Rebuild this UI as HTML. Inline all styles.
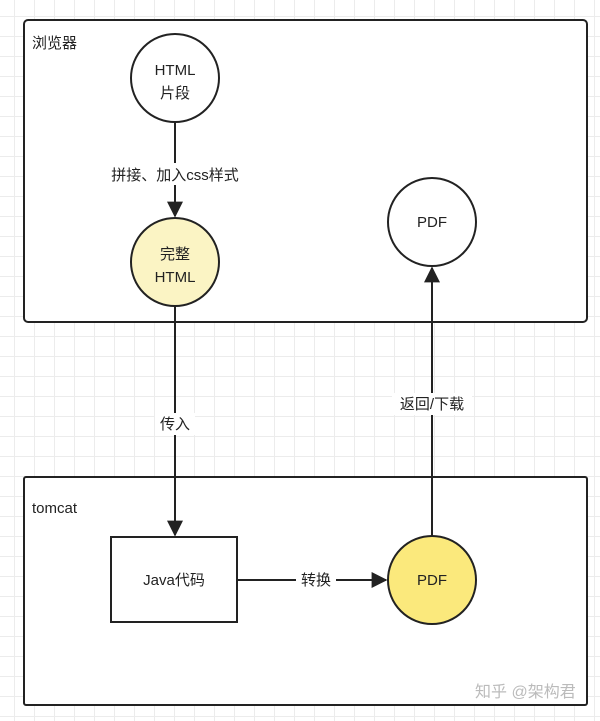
<!DOCTYPE html>
<html><head><meta charset="utf-8"><style>
body{margin:0;width:600px;height:721px;overflow:hidden;background:#fff;
background-image:linear-gradient(#ececec 1px,transparent 1px),linear-gradient(90deg,#ececec 1px,transparent 1px);background-size:20px 20px;background-position:-6px -4px}
svg{position:absolute;left:0;top:0}
text{font-family:"Liberation Sans","Noto Sans CJK SC",sans-serif;font-size:15px;fill:#222}
</style></head><body>
<svg width="600" height="721">
<defs><marker id="a" viewBox="0 0 10 10" refX="9" refY="5" markerWidth="8" markerHeight="8" orient="auto"><path d="M0,0L10,5L0,10z" fill="#222"/></marker></defs>
<rect x="24" y="20" width="563" height="302" rx="4" fill="#fff" stroke="#222" stroke-width="2"/>
<rect x="24" y="477" width="563" height="228" rx="2" fill="#fff" stroke="#222" stroke-width="2"/>
<text x="32" y="48">浏览器</text>
<text x="32" y="513">tomcat</text>
<circle cx="175" cy="78" r="44" fill="#fff" stroke="#222" stroke-width="2"/>
<text x="175" y="75" text-anchor="middle">HTML</text><text x="175" y="98" text-anchor="middle">片段</text>
<circle cx="175" cy="262" r="44" fill="#fbf4c4" stroke="#222" stroke-width="2"/>
<text x="175" y="259" text-anchor="middle">完整</text><text x="175" y="282" text-anchor="middle">HTML</text>
<circle cx="432" cy="222" r="44" fill="#fff" stroke="#222" stroke-width="2"/>
<text x="432" y="227" text-anchor="middle">PDF</text>
<circle cx="432" cy="580" r="44" fill="#fbe97c" stroke="#222" stroke-width="2"/>
<text x="432" y="585" text-anchor="middle">PDF</text>
<rect x="111" y="537" width="126" height="85" fill="#fff" stroke="#222" stroke-width="2"/>
<text x="174" y="585" text-anchor="middle">Java代码</text>
<line x1="175" y1="122" x2="175" y2="216" stroke="#222" stroke-width="2" marker-end="url(#a)"/>
<rect x="100" y="163" width="150" height="22" fill="#fff"/>
<text x="175" y="180" text-anchor="middle">拼接、加入css样式</text>
<line x1="175" y1="306" x2="175" y2="535" stroke="#222" stroke-width="2" marker-end="url(#a)"/>
<rect x="155" y="413" width="40" height="22" fill="#fff"/>
<text x="175" y="429" text-anchor="middle">传入</text>
<line x1="237" y1="580" x2="386" y2="580" stroke="#222" stroke-width="2" marker-end="url(#a)"/>
<rect x="296" y="569" width="40" height="22" fill="#fff"/>
<text x="316" y="585" text-anchor="middle">转换</text>
<line x1="432" y1="536" x2="432" y2="268" stroke="#222" stroke-width="2" marker-end="url(#a)"/>
<rect x="392" y="393" width="80" height="22" fill="#fff"/>
<text x="432" y="409" text-anchor="middle">返回/下载</text>
<text x="475" y="697" style="fill:#bbb;font-size:16px">知乎 @架构君</text>
</svg>
</body></html>
